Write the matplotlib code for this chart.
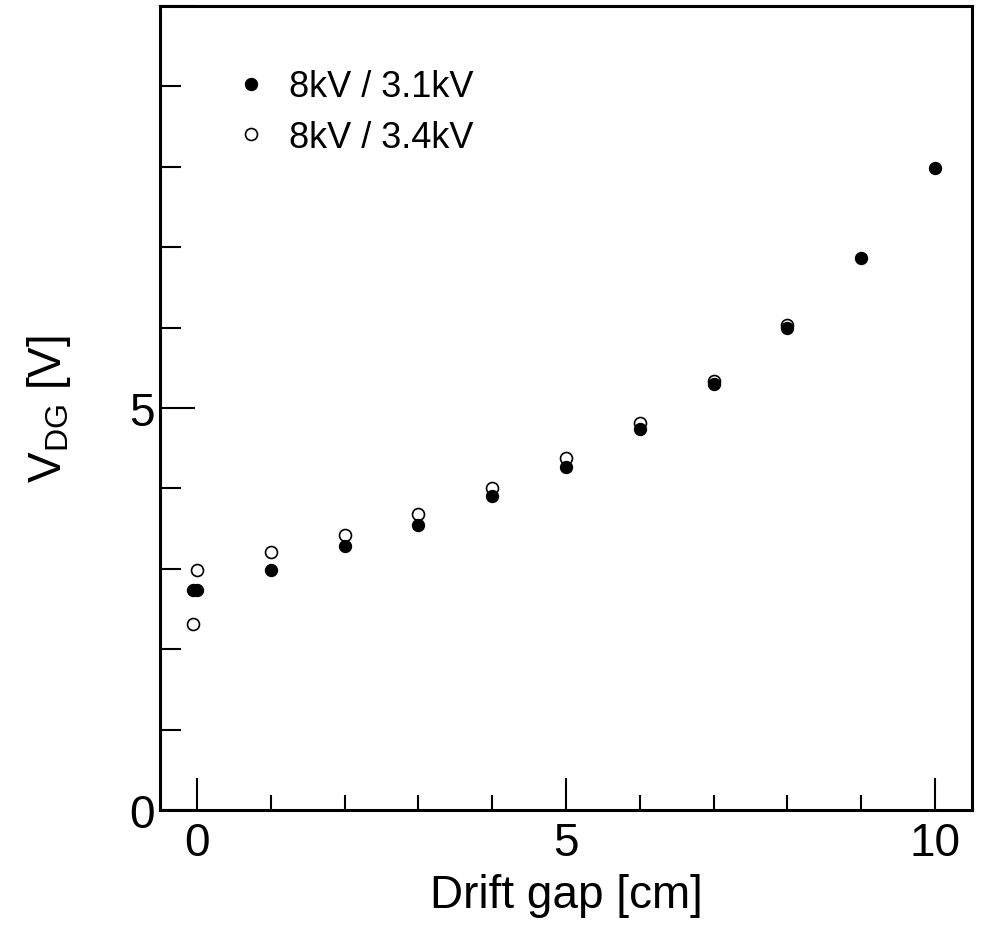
import matplotlib
matplotlib.use("Agg")
from matplotlib import pyplot as plt

## Fonts ##
plt.rcParams['font.family'] = ['Liberation Sans', 'DejaVu Sans']
plt.rcParams['mathtext.fontset'] = 'custom'
plt.rcParams['mathtext.rm'] = 'Liberation Sans'

## Data ##
gap_31 = [-0.05, 0.0, 1, 2, 3, 4, 5, 6, 7, 8, 9, 10]
vdg_31 = [2.73, 2.73, 2.99, 3.28, 3.54, 3.90, 4.27, 4.74, 5.30, 5.99, 6.86, 7.98]

gap_34 = [0.0, -0.05, 1, 2, 3, 4, 5, 6, 7, 8]
vdg_34 = [2.98, 2.31, 3.21, 3.42, 3.68, 4.00, 4.38, 4.81, 5.34, 6.03]

label_31 = "8kV / 3.1kV"
label_34 = "8kV / 3.4kV"

## Figure ##
fig = plt.figure(figsize=(9.84, 9.28), dpi=100)
ax = fig.add_axes([0.1626, 0.1261, 0.8252, 0.8664])

# open first so filled sits on top
ax.plot(gap_34, vdg_34, linestyle='none', marker='o', markersize=8.6,
        markerfacecolor='white', markeredgecolor='black', markeredgewidth=1.2,
        label=label_34, zorder=3)
ax.plot(gap_31, vdg_31, linestyle='none', marker='o', markersize=8.6,
        markerfacecolor='black', markeredgecolor='black',
        label=label_31, zorder=4)

ax.set_xlim(-0.5, 10.5)
ax.set_ylim(0, 10)

ax.set_xticks([0, 5, 10])
ax.set_xticks([1, 2, 3, 4, 6, 7, 8, 9], minor=True)
ax.set_yticks([0, 5, 10])
ax.set_yticklabels(['0', '5', ''])
ax.set_yticks([1, 2, 3, 4, 6, 7, 8, 9], minor=True)

ax.tick_params(axis='both', which='both', direction='in', top=False, right=False,
               labelsize=33, colors='black')
ax.tick_params(axis='x', which='major', length=23, width=1.5, pad=8)
ax.tick_params(axis='x', which='minor', length=11, width=1.5)
ax.tick_params(axis='y', which='major', length=25, width=1.5, pad=4)
ax.tick_params(axis='y', which='minor', length=15, width=1.5)

for s in ax.spines.values():
    s.set_linewidth(2.2)

ax.set_xlabel('Drift gap [cm]', fontsize=33, labelpad=6)
ax.set_ylabel(r'V$_{\mathrm{DG}}$ [V]', fontsize=33, labelpad=40)

handles, labels = ax.get_legend_handles_labels()
ax.legend(handles[::-1], labels[::-1], loc='upper left', bbox_to_anchor=(0.09, 0.921),
          frameon=False, fontsize=26, handlelength=1.0, handletextpad=0.55,
          borderpad=0, borderaxespad=0, labelspacing=0.42, markerscale=1.0)

plt.savefig('out.png', dpi=100)
plt.close()
